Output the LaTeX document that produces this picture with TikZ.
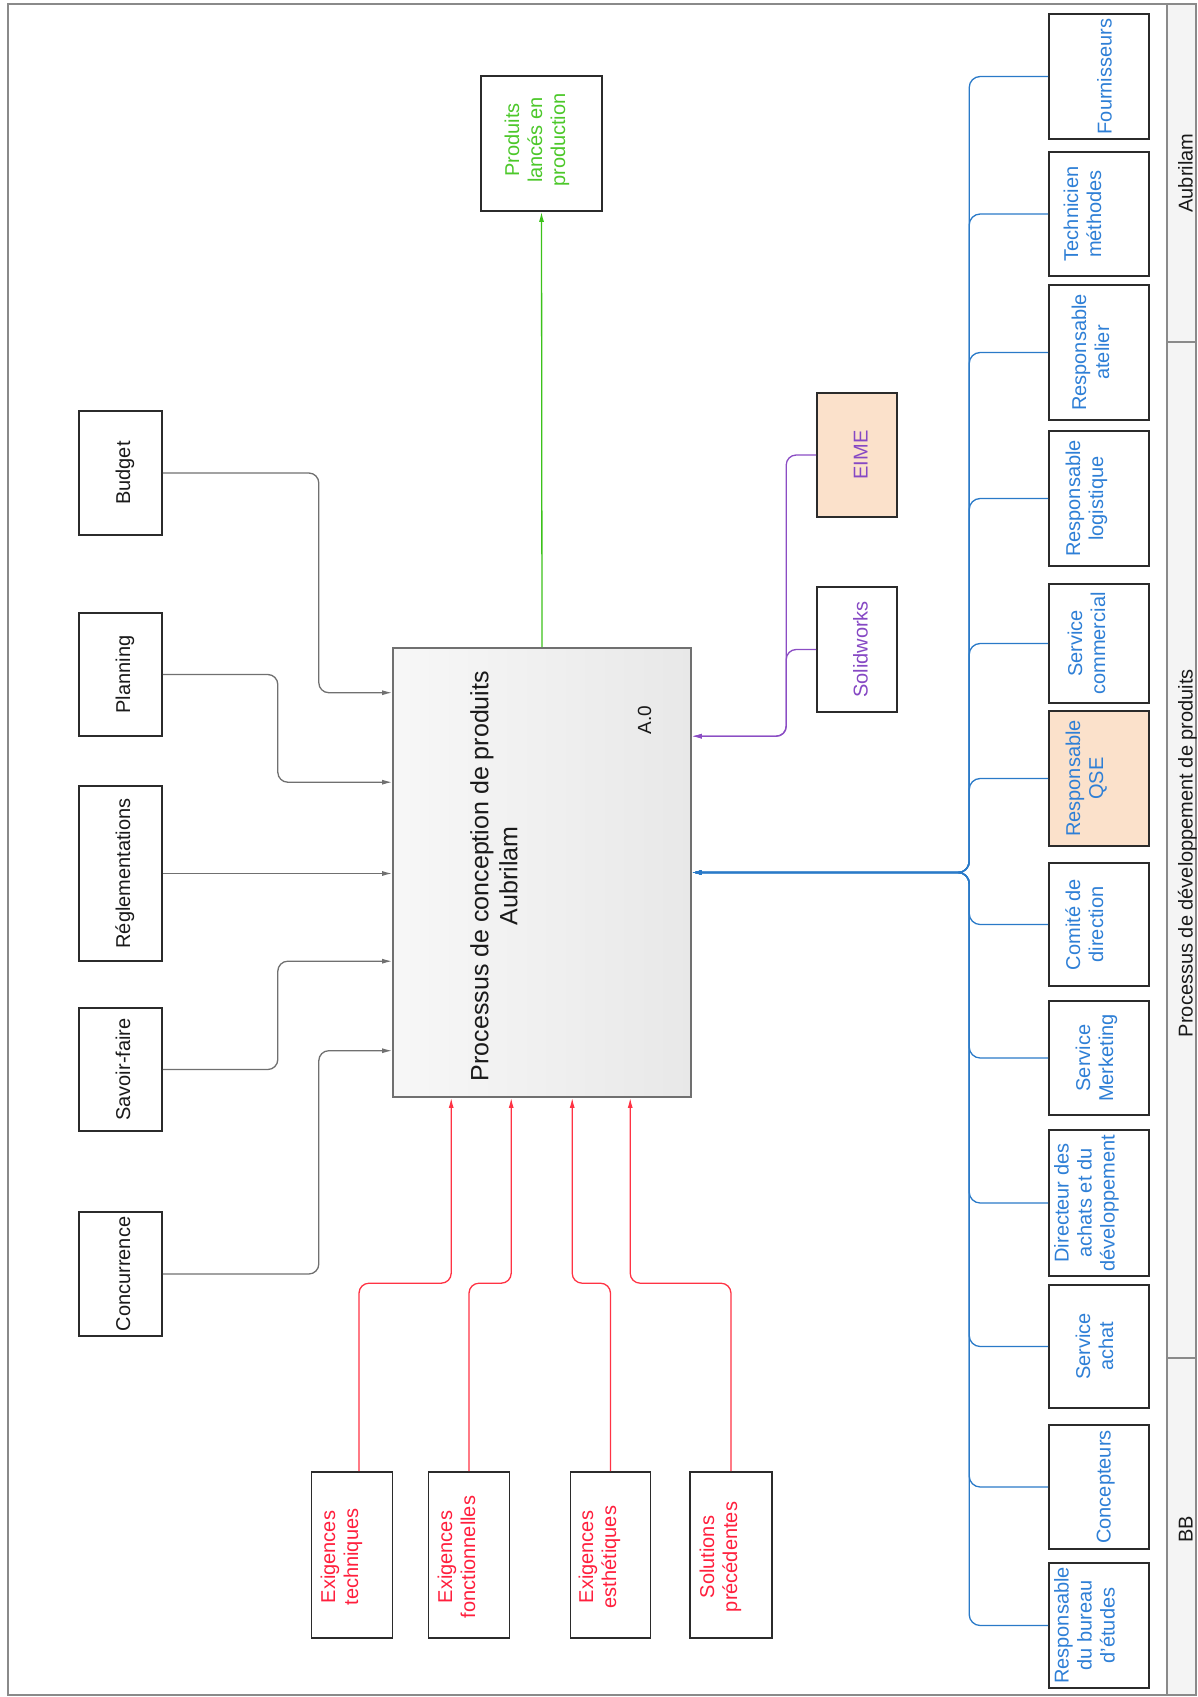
\documentclass[tikz,border=0pt]{standalone}
\usepackage{fontspec}
\setmainfont{Liberation Sans}
\usetikzlibrary{arrows.meta,calc}
\definecolor{boxc}{HTML}{2B2B2B}
\definecolor{framec}{HTML}{8A8A8A}
\definecolor{lanebg}{HTML}{F4F4F4}
\definecolor{ctrlc}{HTML}{707070}
\definecolor{redl}{HTML}{FF3344}
\definecolor{redt}{HTML}{FF1F3D}
\definecolor{bluel}{HTML}{2A7AC8}
\definecolor{bluet}{HTML}{2E7FD6}
\definecolor{greenl}{HTML}{3CC21A}
\definecolor{greent}{HTML}{4CC82A}
\definecolor{purl}{HTML}{8B4DC4}
\definecolor{purt}{HTML}{8648C4}
\definecolor{peach}{HTML}{FBE1CB}
\definecolor{txtk}{HTML}{1A1A1A}
\newcommand{\rtx}[1]{\rotatebox{90}{\begin{tabular}{@{}c@{}}#1\end{tabular}}}
\begin{document}
\begin{tikzpicture}[x=1pt,y=-1pt,
  bx/.style={draw=boxc,line width=1.6pt,fill=white,inner sep=0pt},
  bbx/.style={bx,minimum width=100pt},
  lbl/.style={inner sep=0pt,font=\fontsize{20}{23}\selectfont},
  lane/.style={inner sep=0pt,font=\fontsize{20}{23}\selectfont,text=txtk},
  ctrl/.style={draw=ctrlc,line width=1.3pt,rounded corners=10pt,-{Latex[length=10pt,width=5pt]}},
  inp/.style={draw=redl,line width=1.3pt,rounded corners=10pt,-{Latex[length=10pt,width=5pt]}},
  mech/.style={draw=bluel,line width=1.3pt,rounded corners=11pt,-{Latex[length=10pt,width=5pt]}},
  tool/.style={draw=purl,line width=1.3pt,rounded corners=10pt,-{Latex[length=10pt,width=5pt]}},
  outp/.style={draw=greenl,line width=1.3pt,-{Latex[length=10pt,width=5pt]}}]
\useasboundingbox (0,0) rectangle (1197,1697);
% frame and lane column
\fill[lanebg] (1167,4) rectangle (1196,1695);
\draw[framec,line width=1.5pt] (8,4) rectangle (1196,1695);
\draw[framec,line width=1.2pt] (1167,4) -- (1167,1695);
\draw[framec,line width=1.2pt] (1167,342) -- (1196,342);
\draw[framec,line width=1.2pt] (1167,1358) -- (1196,1358);
\node[lane] (laneA) at (1188,173) {\rtx{Aubrilam}};
\node[lane] (laneP) at (1188,853) {\rtx{Processus de développement de produits}};
\node[lane] (laneB) at (1188,1529) {\rtx{BB}};

% main activity
\node[draw=ctrlc,line width=1.6pt,left color=white!97!black,right color=white!91!black,
      minimum width=298pt,minimum height=449pt,inner sep=0pt] (main) at (542,872.5) {};
\node[inner sep=0pt,font=\fontsize{25}{29}\selectfont,text=txtk] (mainT) at (497,876)
  {\rtx{Processus de conception de produits\\Aubrilam}};
\node[inner sep=0pt,font=\fontsize{19}{21}\selectfont,text=txtk] (mainA) at (647,720) {\rtx{A.0}};

% controls (left)
\node[bx,minimum width=83pt,minimum height=124pt] (budget) at (120.5,473) {};
\node[bx,minimum width=83pt,minimum height=123pt] (planning) at (120.5,674.5) {};
\node[bx,minimum width=83pt,minimum height=175pt] (regl) at (120.5,873.5) {};
\node[bx,minimum width=83pt,minimum height=123pt] (savoir) at (120.5,1069.5) {};
\node[bx,minimum width=83pt,minimum height=124pt] (conc) at (120.5,1274) {};
\node[lbl,text=txtk] (budgetT) at (125.5,473) {\rtx{Budget}};
\node[lbl,text=txtk] (planningT) at (125.5,674.5) {\rtx{Planning}};
\node[lbl,text=txtk] (reglT) at (125.5,873.5) {\rtx{Réglementations}};
\node[lbl,text=txtk] (savoirT) at (125.5,1069.5) {\rtx{Savoir-faire}};
\node[lbl,text=txtk] (concT) at (125.5,1274) {\rtx{Concurrence}};

\draw[ctrl] (budget.east) -- ++(156,0) |- ($(main.north west)+(0,45.5)$);
\draw[ctrl] (planning.east) -- ++(115,0) |- ($(main.north west)+(0,135)$);
\draw[ctrl] (regl.east) -- (regl.east -| main.west);
\draw[ctrl] (savoir.east) -- ++(115,0) |- ($(main.north west)+(0,314)$);
\draw[ctrl] (conc.east) -- ++(156,0) |- ($(main.north west)+(0,403.5)$);

% inputs (bottom, red)
\node[bx,minimum width=81pt,minimum height=166pt] (extech) at (352,1555) {};
\node[bx,minimum width=81pt,minimum height=166pt] (exfonc) at (469,1555) {};
\node[bx,minimum width=80pt,minimum height=166pt] (exesth) at (610.5,1555) {};
\node[bx,minimum width=82pt,minimum height=166pt] (solprec) at (731,1555) {};
\node[lbl,text=redt] (extechT) at (342,1557) {\rtx{Exigences\\techniques}};
\node[lbl,text=redt] (exfoncT) at (459,1557) {\rtx{Exigences\\fonctionnelles}};
\node[lbl,text=redt] (exesthT) at (600,1557) {\rtx{Exigences\\esthétiques}};
\node[lbl,text=redt] (solprecT) at (721,1557) {\rtx{Solutions\\précédentes}};

\draw[inp] ([xshift=7pt]extech.north) -- ++(0,-188) -| ($(main.south west)+(59,0)$);
\draw[inp] (exfonc.north) -- ++(0,-188) -| ($(main.south west)+(119,0)$);
\draw[inp] (exesth.north) -- ++(0,-188) -| ($(main.south west)+(180,0)$);
\draw[inp] (solprec.north) -- ++(0,-188) -| ($(main.south west)+(238,0)$);

% output (top, green)
\node[bx,minimum width=121pt,minimum height=135pt] (prod) at (541.5,143.5) {};
\node[lbl,text=greent] (prodT) at (537.5,140) {\rtx{Produits\\lancés en\\production}};
\draw[outp] (main.north) -- (prod.south);

% tools (purple)
\node[bx,fill=peach,minimum width=80pt,minimum height=124pt] (eime) at (857,455) {};
\node[bx,minimum width=80pt,minimum height=125pt] (solid) at (857,649.5) {};
\node[lbl,text=purt] (eimeT) at (863,455) {\rtx{EIME}};
\node[lbl,text=purt] (solidT) at (863,649.5) {\rtx{Solidworks}};
\draw[tool] (eime.west) -- ++(-30,0) |- ($(main.north east)+(0,89)$);
\draw[tool] (solid.west) -- ++(-30,0) |- ($(main.north east)+(0,89)$);

% mechanisms (right, blue)
\node[bbx,minimum height=125pt] (fourn) at (1099,76.5) {};
\node[bbx,minimum height=124pt] (techm) at (1099,214) {};
\node[bbx,minimum height=135pt] (ratel) at (1099,352.5) {};
\node[bbx,minimum height=135pt] (rlog) at (1099,498.5) {};
\node[bbx,minimum height=119pt] (scom) at (1099,643.5) {};
\node[bbx,fill=peach,minimum height=135pt] (rqse) at (1099,778.5) {};
\node[bbx,minimum height=123pt] (codir) at (1099,924.5) {};
\node[bbx,minimum height=114pt] (smark) at (1099,1058) {};
\node[bbx,minimum height=146pt] (dir) at (1099,1203) {};
\node[bbx,minimum height=123pt] (sach) at (1099,1346.5) {};
\node[bbx,minimum height=124pt] (concep) at (1099,1487) {};
\node[bbx,minimum height=125pt] (rbe) at (1099,1625.5) {};

\node[lbl,text=bluet] (fournT) at (1107,76.5) {\rtx{Fournisseurs}};
\node[lbl,text=bluet] (techmT) at (1085,214) {\rtx{Technicien\\méthodes}};
\node[lbl,text=bluet] (ratelT) at (1093,352.5) {\rtx{Responsable\\atelier}};
\node[lbl,text=bluet] (rlogT) at (1087,498.5) {\rtx{Responsable\\logistique}};
\node[lbl,text=bluet] (scomT) at (1089,643.5) {\rtx{Service\\commercial}};
\node[lbl,text=bluet] (rqseT) at (1087,778.5) {\rtx{Responsable\\QSE}};
\node[lbl,text=bluet] (codirT) at (1087,924.5) {\rtx{Comité de\\direction}};
\node[lbl,text=bluet] (smarkT) at (1097,1058) {\rtx{Service\\Merketing}};
\node[lbl,text=bluet] (dirT) at (1087,1203) {\rtx{Directeur des\\achats et du\\développement}};
\node[lbl,text=bluet] (sachT) at (1097,1346.5) {\rtx{Service\\achat}};
\node[lbl,text=bluet] (concepT) at (1106,1487) {\rtx{Concepteurs}};
\node[lbl,text=bluet] (rbeT) at (1087,1625.5) {\rtx{Responsable\\du bureau\\d'études}};

\foreach \m in {fourn,techm,ratel,rlog,scom,rqse,codir,smark,dir,sach,concep,rbe}{
  \draw[mech] (\m.west) -- ++(-79,0) |- (main.east);
}
\end{tikzpicture}
\end{document}
